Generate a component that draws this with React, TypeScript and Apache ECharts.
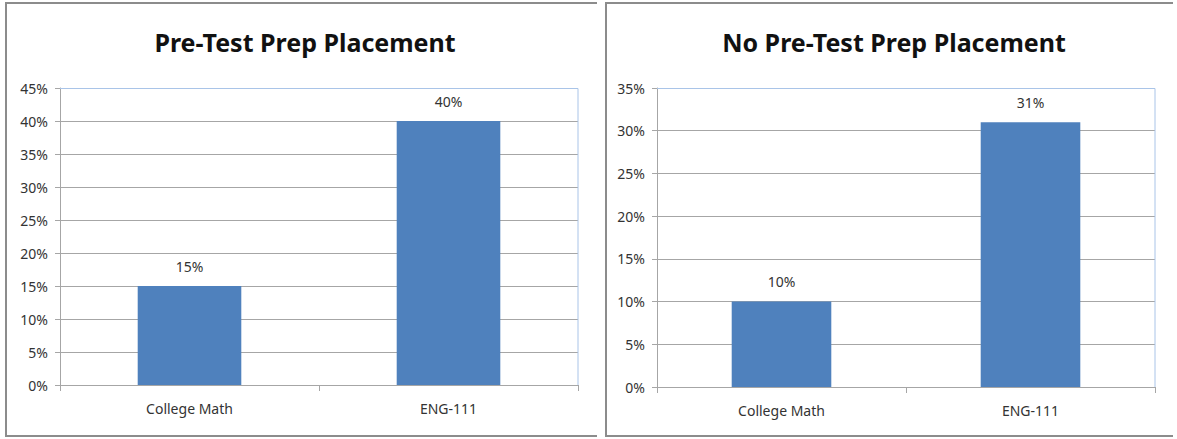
import React, { useEffect, useRef } from "react";
import * as echarts from "echarts";

const categories = ["College Math", "ENG-111"];
const prepValues = [15, 40];
const noPrepValues = [10, 31];
const titles = ["Pre-Test Prep Placement", "No Pre-Test Prep Placement"];
const leftMax = 45;
const rightMax = 35;

const FONT = "'Noto Sans', 'Open Sans', sans-serif";
const BAR = "#4f81bd";
const GRID_GRAY = "#a6a6a6";
const BORDER_BLUE = "#a9c4e8";

export default function App() {
  const ref = useRef<HTMLDivElement>(null);
  useEffect(() => {
    const chart = echarts.init(ref.current!, undefined, { renderer: "svg" });
    const grids = [
      { left: 60, right: 599, top: 88, bottom: 54 },
      { left: 657, right: 22, top: 88, bottom: 52 },
    ];
    const yAxis = (i: number, max: number) => ({
      type: "value",
      gridIndex: i,
      min: 0,
      max,
      interval: 5,
      axisLine: { show: true, lineStyle: { color: GRID_GRAY } },
      axisTick: { show: true, length: 5, lineStyle: { color: GRID_GRAY } },
      splitLine: { show: true, lineStyle: { color: GRID_GRAY } },
      axisLabel: {
        formatter: "{value}%",
        color: "#333",
        fontFamily: FONT,
        fontSize: 14,
        margin: 12,
      },
    });
    const xAxis = (i: number) => ({
      type: "category",
      gridIndex: i,
      data: categories,
      axisLine: { show: true, lineStyle: { color: GRID_GRAY } },
      axisTick: { show: true, length: 6, lineStyle: { color: GRID_GRAY } },
      axisLabel: { color: "#333", fontFamily: FONT, fontSize: 14, margin: 16 },
    });
    const series = (i: number, data: number[]) => ({
      type: "bar",
      xAxisIndex: i,
      yAxisIndex: i,
      data,
      barWidth: "40%",
      itemStyle: { color: BAR },
      label: {
        show: true,
        position: "top",
        formatter: "{c}%",
        color: "#333",
        fontFamily: FONT,
        fontSize: 14,
        distance: 13,
      },
    });
    const border = (x1: number, x2: number) => ({
      type: "polyline",
      shape: { points: [[x2, 3], [x1, 3], [x1, 436], [x2, 436]] },
      style: { stroke: "#8c8c8c", lineWidth: 2, fill: null },
      silent: true,
    });
    const plotBorder = (x1: number, x2: number, top: number, bottom: number) => ({
      type: "polyline",
      shape: { points: [[x1, top], [x2, top], [x2, bottom]] },
      style: { stroke: BORDER_BLUE, lineWidth: 1, fill: null },
      z: 100,
      silent: true,
    });
    const titleStyle = { fontFamily: FONT, fontSize: 25, fontWeight: "bold", color: "#111" };
    chart.setOption({
      animation: false,
      backgroundColor: "#fff",
      title: [
        { text: titles[0], left: 300, top: 24, textAlign: "center", textStyle: titleStyle },
        { text: titles[1], left: 889, top: 24, textAlign: "center", textStyle: titleStyle },
      ],
      grid: grids,
      xAxis: [xAxis(0), xAxis(1)],
      yAxis: [yAxis(0, leftMax), yAxis(1, rightMax)],
      series: [series(0, prepValues), series(1, noPrepValues)],
      graphic: [
        border(6, 597),
        border(606, 1173),
        plotBorder(60, 578, 88.5, 385),
        plotBorder(657, 1155, 88.5, 387),
      ],
    });
    return () => chart.dispose();
  }, []);
  return (
    <div
      ref={ref}
      style={{ position: "absolute", left: 0, top: 0, width: 1177, height: 439 }}
    />
  );
}
